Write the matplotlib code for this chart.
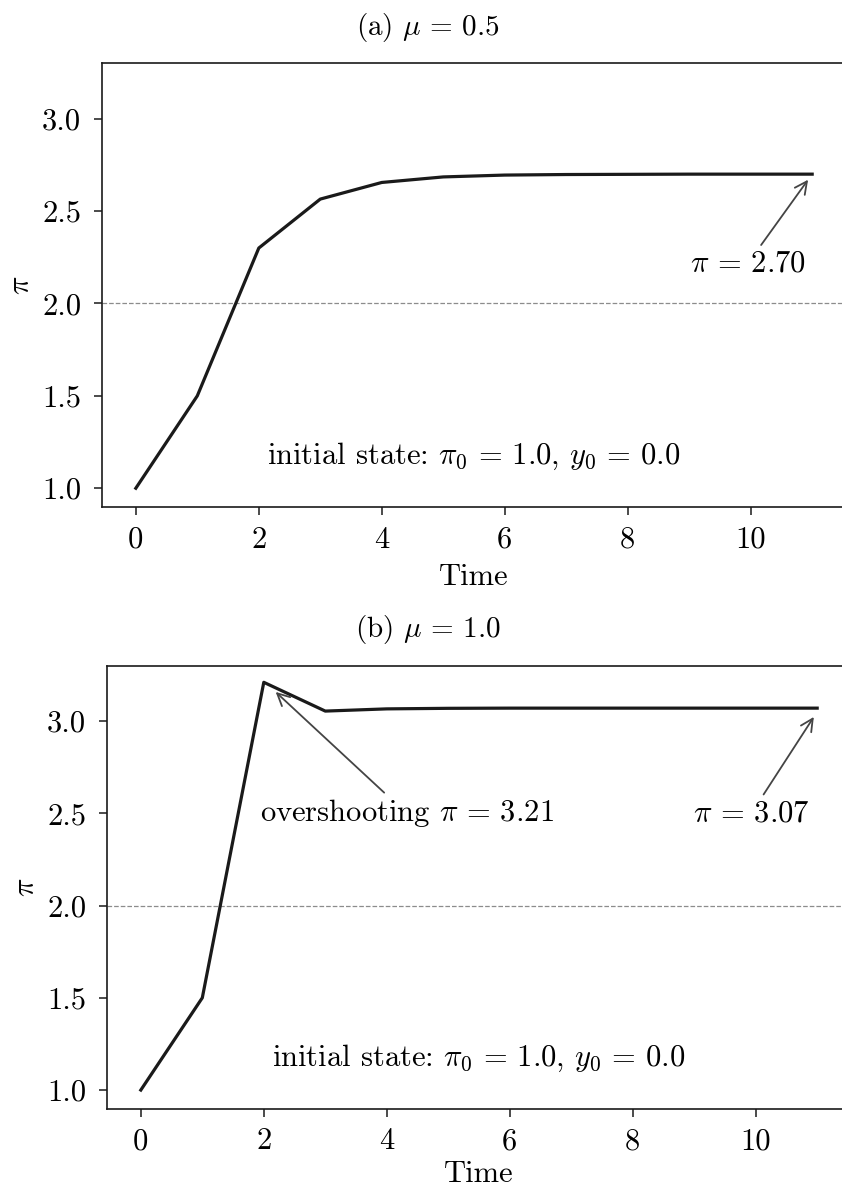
import matplotlib
matplotlib.use("Agg")
import matplotlib.pyplot as plt

plt.rcParams.update({
    "font.family": "serif",
    "font.serif": ["cmr10"],
    "mathtext.fontset": "cm",
    "axes.unicode_minus": False,
    "axes.formatter.use_mathtext": True,
})

# ---- data ----
time_steps = [0, 1, 2, 3, 4, 5, 6, 7, 8, 9, 10, 11]
pi_mu05 = [1.0, 1.5, 2.30, 2.565, 2.655, 2.685, 2.695, 2.698, 2.699, 2.70, 2.70, 2.70]
pi_mu10 = [1.0, 1.5, 3.21, 3.054, 3.066, 3.069, 3.07, 3.07, 3.07, 3.07, 3.07, 3.07]
titles = [r"(a) $\mu\, =\, 0.5$", r"(b) $\mu\, =\, 1.0$"]
final_labels = [r"$\pi\, =\, 2.70$", r"$\pi\, =\, 3.07$"]
overshoot_label = r"overshooting $\pi\, =\, 3.21$"
init_label = r"initial state: $\pi_0\, =\, 1.0$, $y_0\, =\, 0.0$"
target = 2.0
yticks = [1.0, 1.5, 2.0, 2.5, 3.0]
xticks = [0, 2, 4, 6, 8, 10]

W, H = 842, 1189
fig = plt.figure(figsize=(W / 100, H / 100), dpi=100)

rects = [
    (102 / W, 1 - 506.7 / H, 744 / W, 443.4 / H),
    (107 / W, 1 - 1108.5 / H, 744 / W, 442.8 / H),
]
series = [pi_mu05, pi_mu10]
title_y = [1 - 35 / H, 1 - 637 / H]
xlabel_pads = [7, 4]

line_col = "#1a1a1a"
arrow_col = "#444444"
fs = 22

for i, (rect, ys) in enumerate(zip(rects, series)):
    ax = fig.add_axes(rect)
    ax.plot(time_steps, ys, color=line_col, lw=2.3, zorder=3)
    ax.axhline(target, color="#8c8c8c", lw=0.9, ls="--", zorder=1)
    ax.set_xlim(-0.55, 11.55)
    ax.set_ylim(0.9, 3.3)
    ax.set_xticks(xticks)
    ax.set_yticks(yticks)
    ax.set_yticklabels([f"{v:.1f}" for v in yticks])
    ax.set_xticklabels([str(v) for v in xticks])
    ax.tick_params(labelsize=fs, length=6, width=1.1, color="#1a1a1a")
    ax.tick_params(axis="x", pad=8)
    ax.tick_params(axis="y", pad=9)
    for sp in ax.spines.values():
        sp.set_linewidth(1.2)
        sp.set_color("#1a1a1a")
    ax.set_xlabel("Time", fontsize=fs, labelpad=xlabel_pads[i])
    ax.set_ylabel(r"$\pi$", fontsize=fs, labelpad=5)

    ax.text(5.5, 1.13, init_label, fontsize=fs, ha="center", va="baseline")

    fig.text(428 / W, title_y[i], titles[i], fontsize=21, ha="center", va="baseline")

    if i == 0:
        ax.annotate(final_labels[0], xy=(10.96, 2.682), xytext=(9.95, 2.215),
                    fontsize=fs, ha="center", va="center",
                    arrowprops=dict(arrowstyle="->", color=arrow_col, lw=1.3,
                                    mutation_scale=22))
    else:
        ax.annotate(final_labels[1], xy=(10.97, 3.035), xytext=(9.93, 2.50),
                    fontsize=fs, ha="center", va="center",
                    arrowprops=dict(arrowstyle="->", color=arrow_col, lw=1.3,
                                    mutation_scale=22))
        ax.annotate(overshoot_label, xy=(2.16, 3.168), xytext=(4.32, 2.50),
                    fontsize=fs, ha="center", va="center",
                    arrowprops=dict(arrowstyle="->", color=arrow_col, lw=1.3,
                                    mutation_scale=22))

fig.savefig("out.png", dpi=100)
